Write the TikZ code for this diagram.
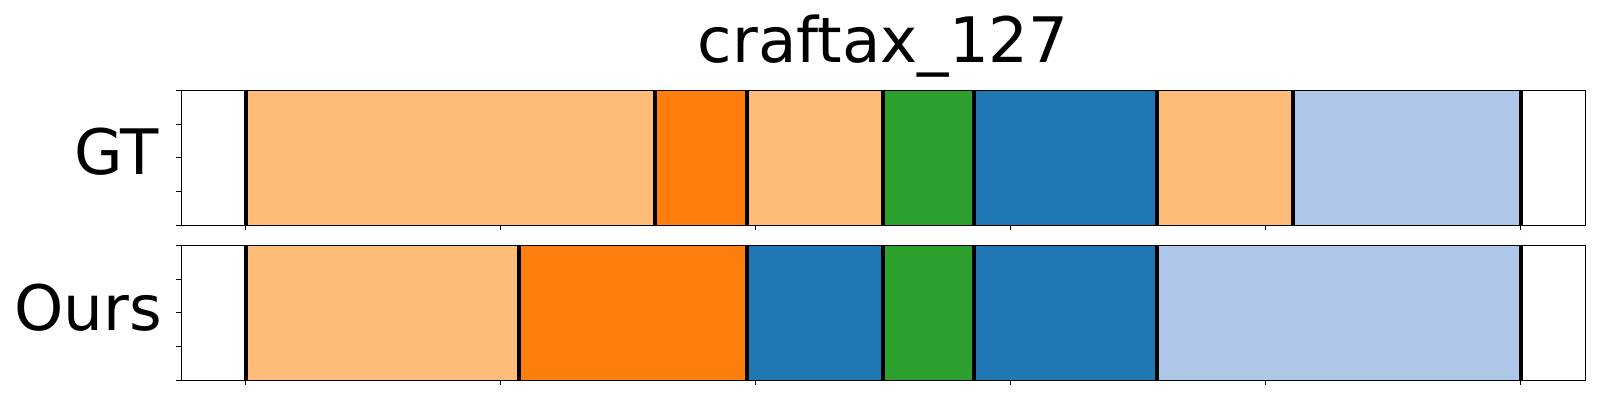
\documentclass[tikz,border=0pt]{standalone}
\usepackage{fontspec}
\setmainfont{DejaVu Sans}
\definecolor{peach}{HTML}{FFBB78}
\definecolor{dorange}{HTML}{FF7F0E}
\definecolor{tgreen}{HTML}{2CA02C}
\definecolor{tblue}{HTML}{1F77B4}
\definecolor{lblue}{HTML}{AEC7E8}
\begin{document}
\begin{tikzpicture}[x=1pt,y=-1pt,
  frame/.style={draw=black,line width=1.3pt},
  tick/.style={draw=black,line width=1.1pt},
  vline/.style={draw=black,line width=4pt},
  big/.style={font=\fontsize{62.7}{75}\selectfont,inner sep=0pt}]
\useasboundingbox (0,0) rectangle (1600,400);
% GT panel segments
\foreach \a/\b/\c in {245.5/655/peach,655/747/dorange,747/883/peach,883/973.7/tgreen,973.7/1156.7/tblue,1156.7/1292.7/peach,1292.7/1520.7/lblue}
  \fill[\c] (\a,90.3) rectangle (\b,225.3);
% Ours panel segments
\foreach \a/\b/\c in {245.5/519/peach,519/747/dorange,747/883/tblue,883/973.7/tgreen,973.7/1156.7/tblue,1156.7/1520.7/lblue}
  \fill[\c] (\a,245.3) rectangle (\b,380.3);
% boundaries
\foreach \x in {245.5,655,747,883,973.7,1156.7,1292.7,1520.7}
  \draw[vline] (\x,90.3) -- (\x,225.3);
\foreach \x in {245.5,519,747,883,973.7,1156.7,1520.7}
  \draw[vline] (\x,245.3) -- (\x,380.3);
% frames
\draw[frame] (181.3,90.3) rectangle (1585.3,225.3);
\draw[frame] (181.3,245.3) rectangle (1585.3,380.3);
% ticks
\foreach \y in {90.3,124.05,157.8,191.55,225.3}
  \draw[tick] (176.3,\y) -- (181.3,\y);
\foreach \y in {245.3,279.05,312.8,346.55,380.3}
  \draw[tick] (176.3,\y) -- (181.3,\y);
\foreach \k in {0,...,5}{
  \draw[tick] (245.7+255*\k,225.3) -- (245.7+255*\k,230.3);
  \draw[tick] (245.7+255*\k,380.3) -- (245.7+255*\k,385.3);
}
% texts
\node[big,anchor=base] (title) at (883.3,62.3) {craftax\_127};
\node[big,anchor=base east] (gt) at (159,174) {GT};
\node[big,anchor=base east] (ours) at (162,330) {Ours};
\end{tikzpicture}
\end{document}
